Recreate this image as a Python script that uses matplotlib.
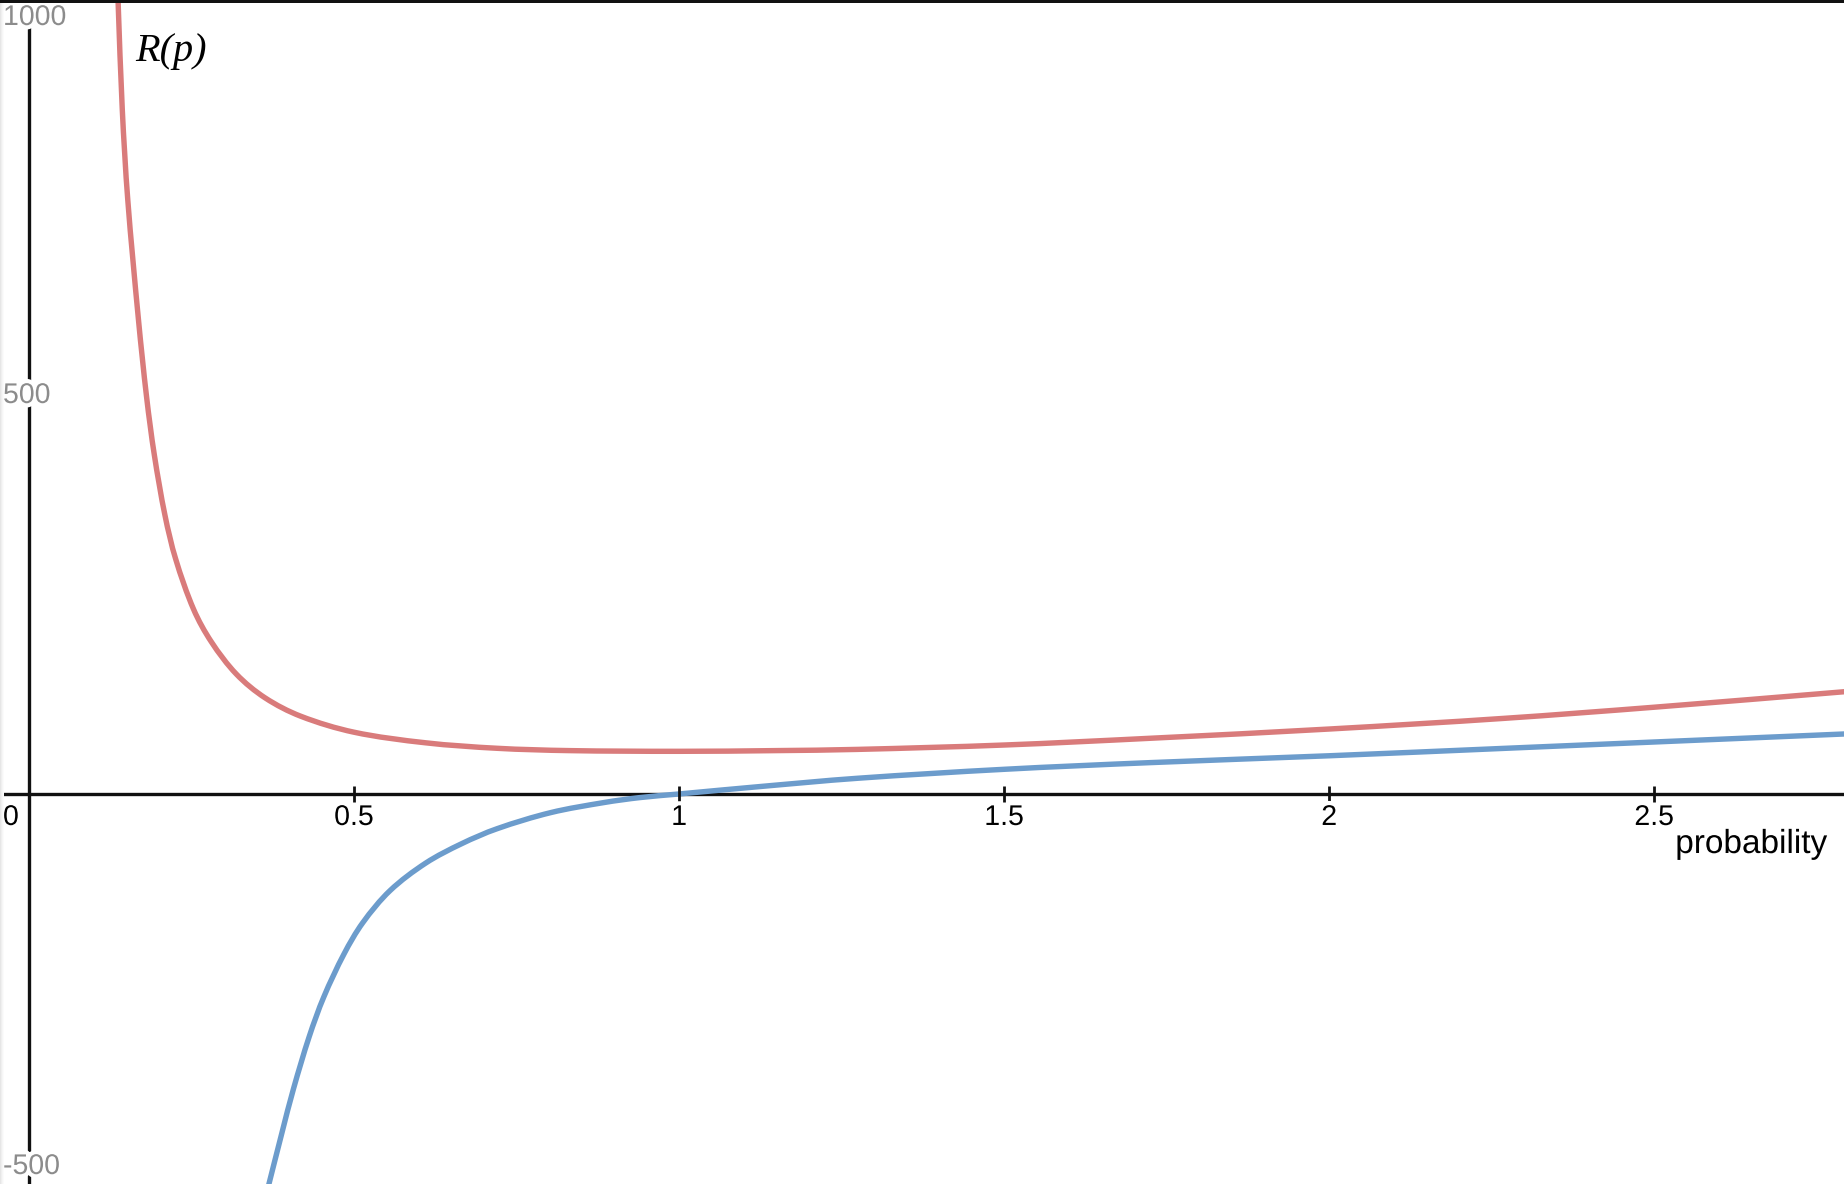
import numpy as np
import matplotlib
matplotlib.use("Agg")
import matplotlib.pyplot as plt
import matplotlib.patheffects as pe
from matplotlib.transforms import offset_copy, blended_transform_factory
from matplotlib.patches import Rectangle, PathPatch
from matplotlib.path import Path

# ---- data ----
red_p = [0.1355, 0.137, 0.1435, 0.152, 0.1685, 0.181, 0.1928, 0.2092, 0.2257,
         0.2532, 0.2806, 0.3191, 0.3631, 0.418, 0.5, 0.61, 0.72, 0.83, 1.0,
         1.15, 1.274, 1.5, 1.725, 2.0, 2.269, 2.5, 2.793]
red_v = [1030, 997, 860, 746, 595, 498, 426, 350, 295,
         232, 191, 150.5, 120.8, 97.7, 77.6, 64.3, 57.4, 54.5, 53.6,
         54.5, 56, 61.5, 70, 81.6, 95, 109, 128.5]

blue_p = [0.366, 0.389, 0.407, 0.431, 0.4535, 0.4846, 0.5134, 0.5554, 0.6103,
          0.6652, 0.7202, 0.8026, 0.885, 0.94, 1.0, 1.12, 1.274, 1.5, 1.725,
          2.0, 2.269, 2.5, 2.793]
blue_v = [-500, -426, -370, -305, -255, -201, -161.8, -121.4, -86.8,
          -62.6, -43.6, -23.4, -10.7, -4.5, 0, 9, 19.7, 31, 39.4,
          48, 57.3, 65.3, 75.4]

x_ticks = [0.5, 1, 1.5, 2, 2.5]
x_tick_labels = ["0.5", "1", "1.5", "2", "2.5"]
y_tick_labels = ["1000", "500", "-500"]
x_label = "probability"
y_label = "R(p)"

RED = "#d97b7b"
BLUE = "#6c9ccc"

W, H = 1844, 1184
fig = plt.figure(figsize=(W / 100, H / 100), dpi=100)
ax = fig.add_axes([0, 0, 1, 1])
ax.set_xlim(-0.0446, 2.792)
ax.set_ylim(-490, 997.5)
ax.axis("off")


def smooth_path(xs, ys, sx=650.0, sy=0.796):
    """Bezier path through the read points (drawn smoothly, passes every point)."""
    P = np.column_stack([np.asarray(xs) * sx, np.asarray(ys) * sy])
    n = len(P)
    T = np.zeros_like(P)
    for i in range(n):
        a = P[max(i - 1, 0)]
        b = P[min(i + 1, n - 1)]
        d = b - a
        T[i] = d / np.hypot(*d)
    verts = [P[0]]
    codes = [Path.MOVETO]
    for i in range(n - 1):
        L = np.hypot(*(P[i + 1] - P[i])) / 3.0
        verts += [P[i] + T[i] * L, P[i + 1] - T[i + 1] * L, P[i + 1]]
        codes += [Path.CURVE4] * 3
    V = np.array(verts)
    V[:, 0] /= sx
    V[:, 1] /= sy
    return Path(V, codes)


# axes lines
ax.axhline(0, color="#111111", lw=2.4, zorder=1)
ax.axvline(0, color="#111111", lw=2.4, zorder=1)

# curves
for xs, ys, c in [(red_p, red_v, RED), (blue_p, blue_v, BLUE)]:
    ax.add_patch(PathPatch(smooth_path(xs, ys), facecolor="none", edgecolor=c,
                           lw=3.9, capstyle="round", joinstyle="round", zorder=2))

# x tick marks
ax.plot(x_ticks, [0] * len(x_ticks), linestyle="none", marker="|",
        markersize=11, mew=2, color="#111111", zorder=3)

halo = [pe.withStroke(linewidth=6, foreground="white")]
tick_font = dict(family="Liberation Sans", size=20.5)

# x tick labels
tr_below = offset_copy(ax.transData, fig=fig, x=0, y=-11, units="dots")
for t, lab in zip(x_ticks, x_tick_labels):
    ax.text(t, 0, lab, transform=tr_below, ha="center", va="top",
            color="black", path_effects=halo, zorder=4, **tick_font)
bl = blended_transform_factory(ax.transAxes, ax.transData)
tr0 = offset_copy(bl, fig=fig, x=0, y=-11, units="dots")
ax.text(3 / W, 0, "0", transform=tr0, ha="left", va="top",
        color="black", path_effects=halo, zorder=4, **tick_font)

# y tick labels (gray, clamped to left edge)
ytxt = dict(color="#8c8c8c", path_effects=halo, zorder=4, ha="left",
            va="center", **tick_font)
ax.text(3 / W, 1 - 18 / H, y_tick_labels[0], transform=ax.transAxes, **ytxt)
ax.text(3 / W, 500, y_tick_labels[1], transform=bl, **ytxt)
ax.text(3 / W, 1 - 1167 / H, y_tick_labels[2], transform=ax.transAxes, **ytxt)

# axis labels
ax.text(1827 / W, 1 - 853 / H, x_label, transform=ax.transAxes, ha="right",
        va="baseline", color="black", family="Liberation Sans", size=24,
        path_effects=halo, zorder=4)
ax.text(135 / W, 1 - 61 / H, y_label, transform=ax.transAxes, ha="left",
        va="baseline", color="black", family="Liberation Serif",
        style="italic", size=29, zorder=4)

# top border and left shadow
fig.patches.append(Rectangle((0, 1 - 3 / H), 1, 3 / H, transform=fig.transFigure,
                             facecolor="#111111", edgecolor="none", zorder=10))
for i, c in enumerate(["#e6e6e6", "#efefef", "#f6f6f6", "#fbfbfb"]):
    fig.patches.append(Rectangle((i / W, 0), 1 / W, 1, transform=fig.transFigure,
                                 facecolor=c, edgecolor="none", zorder=0.5))

fig.savefig("out.png", dpi=100, facecolor="white")
